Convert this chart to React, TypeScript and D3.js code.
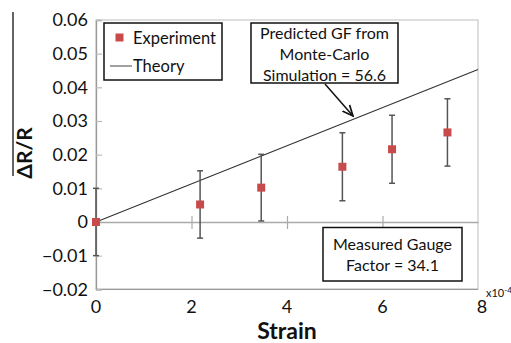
import { useEffect, useRef } from "react";
import * as d3 from "d3";

// strain values are in units of 1e-4
const strain = [0, 2.18, 3.46, 5.16, 6.2, 7.36];
const deltaR = [0, 0.0052, 0.0102, 0.0164, 0.0216, 0.0266];
const errBar = [0.01, 0.01, 0.0099, 0.0101, 0.0101, 0.01];
const theoryGF = 56.6;
const xTicks = [0, 2, 4, 6, 8];
const yTicks = [-0.02, -0.01, 0, 0.01, 0.02, 0.03, 0.04, 0.05, 0.06];
const calloutLines = ["Predicted GF from", "Monte-Carlo", "Simulation = 56.6"];
const measuredLines = ["Measured Gauge", "Factor = 34.1"];

const W = 511;
const H = 343;
const FONT = "Lato, 'Open Sans', sans-serif";

export default function App() {
  const ref = useRef<SVGSVGElement>(null);

  useEffect(() => {
    const svg = d3.select(ref.current);
    svg.selectAll("*").remove();

    const x = d3.scaleLinear().domain([0, 8]).range([96, 478]);
    const y = d3.scaleLinear().domain([-0.02, 0.06]).range([289.3, 20]);

    const defs = svg.append("defs");
    defs.append("marker")
      .attr("id", "arrow")
      .attr("viewBox", "0 0 10 10")
      .attr("refX", 9).attr("refY", 5)
      .attr("markerWidth", 8).attr("markerHeight", 8)
      .attr("orient", "auto")
      .append("path")
      .attr("d", "M0,1 L9,5 L0,9")
      .attr("fill", "none")
      .attr("stroke", "#111")
      .attr("stroke-width", 1.4);

    // plot frame
    svg.append("rect")
      .attr("x", x(0)).attr("y", y(0.06))
      .attr("width", x(8) - x(0)).attr("height", y(-0.02) - y(0.06))
      .attr("fill", "none").attr("stroke", "#c8c8c8").attr("stroke-width", 1.2);
    svg.append("line")
      .attr("x1", x(0)).attr("x2", x(8)).attr("y1", y(-0.02)).attr("y2", y(-0.02))
      .attr("stroke", "#999").attr("stroke-width", 1.2);

    // y axis
    const yAxis = svg.append("g").attr("transform", `translate(${x(0)},0)`)
      .call(d3.axisRight(y).tickValues(yTicks).tickSize(6).tickFormat(() => ""));
    yAxis.select(".domain").attr("stroke", "#999").attr("stroke-width", 1.3);
    yAxis.selectAll(".tick line").attr("stroke", "#bbb").attr("stroke-width", 1.2);

    svg.append("g").selectAll("text").data(yTicks).join("text")
      .attr("x", 88).attr("y", (d) => y(d)).attr("dy", "0.36em")
      .attr("text-anchor", "end")
      .attr("font-family", FONT).attr("font-size", 18).attr("fill", "#111")
      .text((d) => (d === 0 ? "0" : d3.format(".2f")(d)));

    // zero line with x ticks
    const xAxis = svg.append("g").attr("transform", `translate(0,${y(0)})`)
      .call(d3.axisBottom(x).tickValues([2, 4, 6]).tickSize(0).tickFormat(() => ""));
    xAxis.select(".domain").attr("stroke", "#aaa").attr("stroke-width", 1.3);
    xAxis.selectAll(".tick line").attr("y1", -6).attr("y2", 7)
      .attr("stroke", "#aaa").attr("stroke-width", 1.2);

    svg.append("g").selectAll("text").data(xTicks).join("text")
      .attr("x", (d) => x(d) + (d === 8 ? 4 : 0)).attr("y", 313)
      .attr("text-anchor", "middle")
      .attr("font-family", FONT).attr("font-size", 18).attr("fill", "#111")
      .text((d) => String(d));

    svg.append("text")
      .attr("x", 486).attr("y", 297)
      .attr("font-family", FONT).attr("font-size", 11).attr("fill", "#111")
      .text("x10")
      .append("tspan").attr("dy", -4).attr("font-size", 8).text("-4");

    // axis titles
    svg.append("text")
      .attr("x", 287).attr("y", 339).attr("text-anchor", "middle")
      .attr("font-family", FONT).attr("font-weight", "bold").attr("font-size", 23)
      .attr("fill", "#111").text("Strain");
    svg.append("text")
      .attr("transform", "translate(32,153) rotate(-90)")
      .attr("text-anchor", "middle")
      .attr("font-family", FONT).attr("font-weight", "bold").attr("font-size", 21)
      .attr("fill", "#111").text("ΔR/R");
    svg.append("line")
      .attr("x1", 13).attr("x2", 13).attr("y1", 12).attr("y2", 176)
      .attr("stroke", "#111").attr("stroke-width", 1.3);

    // theory line
    const theory = d3.line<number>().x((d) => x(d)).y((d) => y(theoryGF * d * 1e-4));
    svg.append("path")
      .datum([0, 8])
      .attr("d", theory)
      .attr("fill", "none").attr("stroke", "#333").attr("stroke-width", 1.1);

    // error bars
    const pts = strain.map((s, i) => ({ s, v: deltaR[i], e: errBar[i] }));
    const eb = svg.append("g").attr("stroke", "#555").attr("stroke-width", 1.5);
    eb.selectAll("line.v").data(pts).join("line").attr("class", "v")
      .attr("x1", (d) => x(d.s)).attr("x2", (d) => x(d.s))
      .attr("y1", (d) => y(d.v + d.e)).attr("y2", (d) => y(d.v - d.e));
    eb.selectAll("line.t").data(pts).join("line").attr("class", "t")
      .attr("x1", (d) => x(d.s) - 3).attr("x2", (d) => x(d.s) + 3)
      .attr("y1", (d) => y(d.v + d.e)).attr("y2", (d) => y(d.v + d.e));
    eb.selectAll("line.b").data(pts).join("line").attr("class", "b")
      .attr("x1", (d) => x(d.s) - 3).attr("x2", (d) => x(d.s) + 3)
      .attr("y1", (d) => y(d.v - d.e)).attr("y2", (d) => y(d.v - d.e));

    // experiment markers
    svg.append("g").selectAll("rect").data(pts).join("rect")
      .attr("x", (d) => x(d.s) - 4).attr("y", (d) => y(d.v) - 4)
      .attr("width", 8).attr("height", 8)
      .attr("fill", "#c84b4b");

    // legend
    const lg = svg.append("g");
    lg.append("rect").attr("x", 104).attr("y", 23).attr("width", 118).attr("height", 57)
      .attr("fill", "#fff").attr("stroke", "#111").attr("stroke-width", 1.5);
    lg.append("rect").attr("x", 115.5).attr("y", 33.5).attr("width", 8).attr("height", 8)
      .attr("fill", "#c84b4b");
    lg.append("text").attr("x", 133).attr("y", 44)
      .attr("font-family", FONT).attr("font-size", 16.5).attr("fill", "#111").text("Experiment");
    lg.append("line").attr("x1", 110).attr("x2", 132).attr("y1", 66).attr("y2", 66)
      .attr("stroke", "#555").attr("stroke-width", 1.1);
    lg.append("text").attr("x", 133).attr("y", 72)
      .attr("font-family", FONT).attr("font-size", 16.5).attr("fill", "#111").text("Theory");

    // callout: predicted GF
    const c1 = svg.append("g");
    c1.append("rect").attr("x", 251).attr("y", 23).attr("width", 147).attr("height", 60)
      .attr("fill", "#fff").attr("stroke", "#111").attr("stroke-width", 1.5);
    c1.selectAll("text").data(calloutLines).join("text")
      .attr("x", 324.5).attr("y", (_, i) => 39 + i * 21)
      .attr("text-anchor", "middle")
      .attr("font-family", FONT).attr("font-size", 16).attr("fill", "#111")
      .text((d) => d);
    svg.append("line")
      .attr("x1", 325).attr("y1", 84).attr("x2", 353).attr("y2", 116)
      .attr("stroke", "#111").attr("stroke-width", 1.5)
      .attr("marker-end", "url(#arrow)");

    // callout: measured GF
    const c2 = svg.append("g");
    c2.append("rect").attr("x", 323).attr("y", 227.5).attr("width", 139).attr("height", 53.5)
      .attr("fill", "#fff").attr("stroke", "#111").attr("stroke-width", 1.5);
    c2.selectAll("text").data(measuredLines).join("text")
      .attr("x", 392.5).attr("y", (_, i) => 250 + i * 21)
      .attr("text-anchor", "middle")
      .attr("font-family", FONT).attr("font-size", 16).attr("fill", "#111")
      .text((d) => d);
  }, []);

  return (
    <svg
      ref={ref}
      width={W}
      height={H}
      style={{ position: "absolute", left: 0, top: 0, background: "#fff" }}
    />
  );
}
